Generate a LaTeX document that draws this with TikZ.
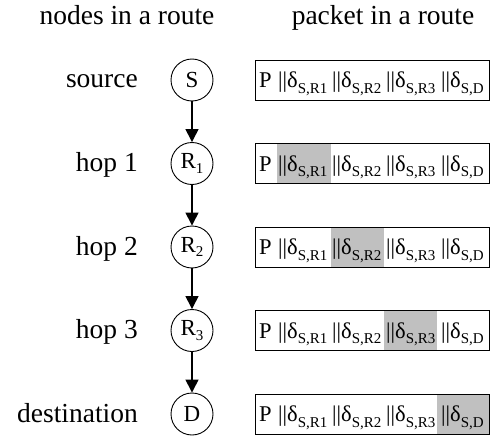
\documentclass[tikz,border=0pt]{standalone}
\usepackage{fontspec}
\setmainfont{Liberation Serif}
\usetikzlibrary{arrows.meta}
\definecolor{shadegray}{RGB}{192,192,192}
\newcommand{\dsub}[1]{δ\raisebox{-0.25em}{\fontsize{15}{15}\selectfont #1}}
\newcommand{\rsub}[1]{R\raisebox{-0.2em}{\fontsize{15}{15}\selectfont #1}}
\newcommand{\pktrow}[2]{%
  \node[pkt] (b#1) at (255,#2) {};
  \node[fld] (p#1) at (259,#2+7.5) {P};
  \node[fld] (f#1a) at (278,#2+7.5) {||\dsub{S,R1}};
  \node[fld] (f#1b) at (332,#2+7.5) {||\dsub{S,R2}};
  \node[fld] (f#1c) at (386,#2+7.5) {||\dsub{S,R3}};
  \node[fld] (f#1d) at (441,#2+7.5) {||\dsub{S,D}};
}
\begin{document}
\begin{tikzpicture}[x=1pt,y=-1pt,
  lbl/.style={font=\fontsize{27.5}{30}\selectfont, inner sep=0, anchor=base east},
  ttl/.style={font=\fontsize{27.5}{30}\selectfont, inner sep=0, anchor=base},
  hopnode/.style={draw, circle, minimum size=42pt, inner sep=0, line width=0.9pt, font=\fontsize{23}{23}\selectfont},
  pkt/.style={draw, line width=0.8pt, minimum width=234pt, minimum height=40pt, inner sep=0, anchor=west},
  fld/.style={inner sep=0, anchor=base west, font=\fontsize{22.5}{23}\selectfont},
  link/.style={line width=1.4pt, -{Triangle[length=13pt,width=13pt]}}
]
\useasboundingbox (0,0) rectangle (490,444);
\node[ttl] (t1) at (127,25) {nodes in a route};
\node[ttl] (t2) at (383,25) {packet in a route};

\node[lbl] (l0) at (138,88) {source};
\node[lbl] (l1) at (138,171.5) {hop 1};
\node[lbl] (l2) at (138,255) {hop 2};
\node[lbl] (l3) at (138,338.5) {hop 3};
\node[lbl] (l4) at (138,422) {destination};

\node[hopnode] (S) at (192,80) {S};
\node[hopnode] (R1) at (192,163.5) {\rsub{1}};
\node[hopnode] (R2) at (192,247) {\rsub{2}};
\node[hopnode] (R3) at (192,330.5) {\rsub{3}};
\node[hopnode] (D) at (192,414) {D};

\draw[link] (S) -- (R1);
\draw[link] (R1) -- (R2);
\draw[link] (R2) -- (R3);
\draw[link] (R3) -- (D);

\fill[shadegray] (277,143.5) rectangle (331,183.5);
\fill[shadegray] (331,227) rectangle (384,267);
\fill[shadegray] (384,310.5) rectangle (437,350.5);
\fill[shadegray] (437,394) rectangle (489,434);

\pktrow{0}{80}
\pktrow{1}{163.5}
\pktrow{2}{247}
\pktrow{3}{330.5}
\pktrow{4}{414}
\end{tikzpicture}
\end{document}
